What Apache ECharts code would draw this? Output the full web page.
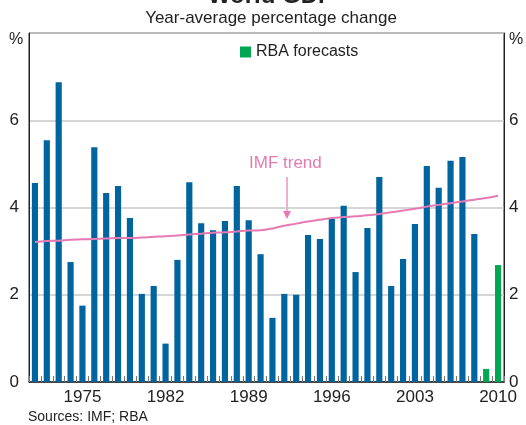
<!DOCTYPE html>
<html>
<head>
<meta charset="utf-8">
<script src="https://cdn.jsdelivr.net/npm/echarts@6/dist/echarts.min.js"></script>
<style>
  html, body { margin: 0; padding: 0; background: #fff; }
  #chart { width: 526px; height: 425px; }
</style>
</head>
<body>
<div id="chart"></div>
<script>
// years 1971..2010
const years = [];
for (let y = 1971; y <= 2010; y++) years.push(String(y));

// actual growth, 1971-2008
const actual = [
  4.56, 5.54, 6.87, 2.75, 1.75, 5.38, 4.33, 4.49, 3.76, 2.02,
  2.20, 0.88, 2.80, 4.58, 3.64, 3.48, 3.69, 4.49, 3.71, 2.93,
  1.47, 2.02, 2.00, 3.37, 3.28, 3.74, 4.04, 2.52, 3.53, 4.70,
  2.20, 2.82, 3.62, 4.95, 4.45, 5.07, 5.16, 3.39
];
// RBA forecasts, 2009-2010
const forecast = [0.30, 2.68];

// IMF trend
const trend = [
  3.21, 3.23, 3.24, 3.26, 3.27, 3.28, 3.29, 3.30, 3.30, 3.31,
  3.33, 3.34, 3.36, 3.38, 3.40, 3.42, 3.43, 3.45, 3.47, 3.48,
  3.52, 3.58, 3.63, 3.68, 3.72, 3.76, 3.78, 3.80, 3.82, 3.85,
  3.89, 3.93, 3.97, 4.02, 4.06, 4.10, 4.14, 4.18, 4.22, 4.27
];

const yTicks = [0, 2, 4, 6];

const blue = "#00649f";
const green = "#00a651";
const pink = "#e67ab2";

const histData = years.map((y, i) => i < actual.length ? actual[i] : null);
const fcData = years.map((y, i) => i >= actual.length ? forecast[i - actual.length] : null);

const chart = echarts.init(document.getElementById("chart"));

const yAxisBase = {
  type: "value",
  min: 0,
  max: 8,
  interval: 2,
  axisLine: { show: true, lineStyle: { color: "#222", width: 1 } },
  axisTick: { show: false },
  splitLine: { show: true, lineStyle: { color: "#c8c8c8", width: 1.5 } },
  axisLabel: {
    fontSize: 17,
    color: "#222",
    fontFamily: "Liberation Sans",
    formatter: v => (yTicks.indexOf(v) >= 0 ? String(v) : "")
  }
};

chart.setOption({
  animation: false,
  textStyle: { fontFamily: "Liberation Sans" },
  title: [
    {
      text: "World GDP",
      left: 266,
      textAlign: "center",
      top: -21,
      textStyle: { fontSize: 24, fontWeight: "bold", color: "#222" }
    },
    {
      text: "Year-average percentage change",
      left: 266,
      textAlign: "center",
      top: 5,
      textStyle: { fontSize: 17, fontWeight: "normal", color: "#222" }
    },
    {
      text: "Sources: IMF; RBA",
      left: 23,
      top: 405,
      textStyle: { fontSize: 14, fontWeight: "normal", color: "#222" }
    }
  ],
  legend: {
    data: ["RBA forecasts"],
    left: 235,
    top: 39,
    itemWidth: 11,
    itemHeight: 11,
    itemGap: 6,
    icon: "rect",
    textStyle: { fontSize: 16, color: "#222" }
  },
  grid: { left: 29, right: 22, top: 33, bottom: 43, show: true, borderColor: "#222", borderWidth: 1 },
  xAxis: {
    type: "category",
    data: years,
    axisLine: { lineStyle: { color: "#222", width: 1.5 } },
    axisTick: {
      show: true,
      inside: true,
      length: 6,
      interval: 0,
      lineStyle: { color: "#777" }
    },
    axisLabel: {
      interval: (i, v) => (Number(v) - 1975) % 7 === 0,
      fontSize: 17,
      color: "#222",
      margin: 7
    }
  },
  yAxis: [
    Object.assign({}, yAxisBase, { position: "left", axisLabel: Object.assign({}, yAxisBase.axisLabel, { margin: 10 }) }),
    Object.assign({}, yAxisBase, { position: "right", splitLine: { show: false }, axisLabel: Object.assign({}, yAxisBase.axisLabel, { margin: 5 }) })
  ],
  series: [
    {
      name: "World GDP",
      type: "bar",
      data: histData,
      barWidth: "52%",
      barGap: "-100%",
      itemStyle: { color: blue }
    },
    {
      name: "RBA forecasts",
      type: "bar",
      data: fcData,
      barWidth: "52%",
      barGap: "-100%",
      itemStyle: { color: green }
    },
    {
      name: "IMF trend",
      type: "line",
      data: trend,
      smooth: true,
      symbol: "none",
      lineStyle: { color: pink, width: 2 },
      z: 5
    }
  ],
  graphic: [
    { type: "text", left: 9, top: 32, style: { text: "%", fontSize: 16, fill: "#222", fontFamily: "Liberation Sans" } },
    { type: "text", left: 509, top: 32, style: { text: "%", fontSize: 16, fill: "#222", fontFamily: "Liberation Sans" } },
    { type: "text", left: 249, top: 155, style: { text: "IMF trend", fontSize: 17, fill: pink, fontFamily: "Liberation Sans" } },
    { type: "line", shape: { x1: 287, y1: 177, x2: 287, y2: 212 }, style: { stroke: pink, lineWidth: 1.2 } },
    { type: "polygon", shape: { points: [[283, 211], [291, 211], [287, 219]] }, style: { fill: pink } }
  ]
});
</script>
</body>
</html>
